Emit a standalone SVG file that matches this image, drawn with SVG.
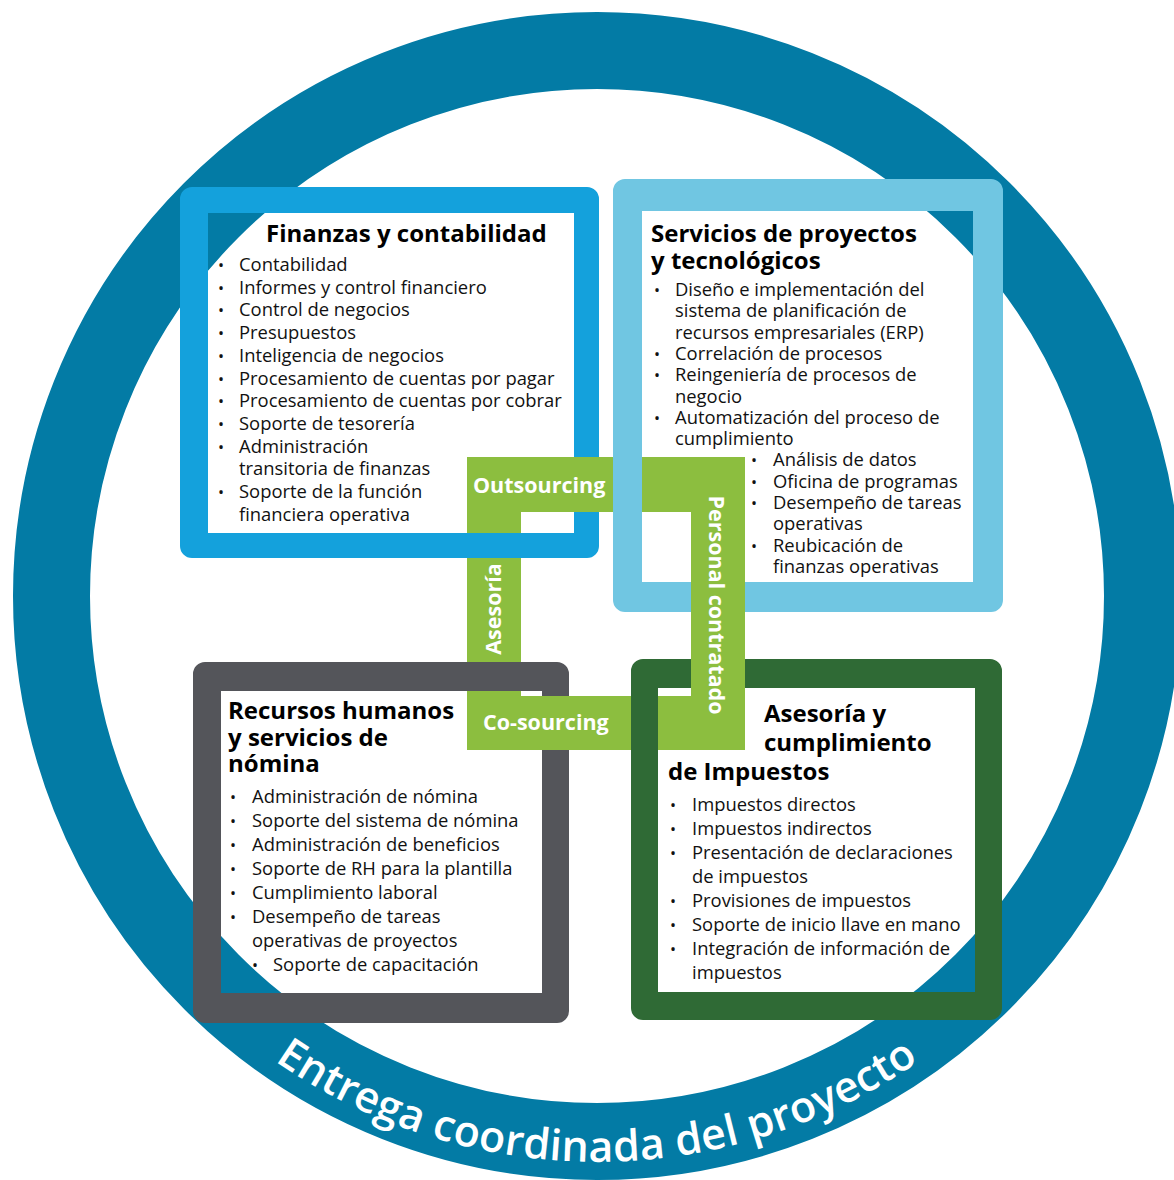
<svg xmlns="http://www.w3.org/2000/svg" width="1174" height="1180" viewBox="0 0 1174 1180">
<style>
.t{font-family:"Open Sans","Noto Sans",sans-serif;font-weight:700;font-size:24px;fill:#000}
.b{font-family:"Open Sans","Noto Sans",sans-serif;font-weight:400;font-size:18.4px;fill:#111}
.d{font-family:"Open Sans","Noto Sans",sans-serif;font-weight:400;font-size:16px;fill:#111;text-anchor:middle}
.g{font-family:"Open Sans","Noto Sans",sans-serif;font-weight:700;font-size:21.5px;fill:#fff}
.ring-text{font-family:"Open Sans","Noto Sans",sans-serif;font-weight:600;font-size:43px;fill:#fff;letter-spacing:0.3px}
.bar{fill:#8cbe3f}
</style>
<defs>
<path id="arc" d="M31,596 A566,566 0 0 0 1163,596"/>
</defs>
<rect width="1174" height="1180" fill="#fff"/>
<g id="ring">
<circle cx="597" cy="596" r="545.5" fill="none" stroke="#037ba5" stroke-width="77"/>
<text class="ring-text" text-anchor="middle"><textPath href="#arc" startOffset="50%">Entrega coordinada del proyecto</textPath></text>
</g>

<g id="finanzas">
<path fill="#14a1dc" fill-rule="evenodd" d="M192,187 H587 A12,12 0 0 1 599,199 V546 A12,12 0 0 1 587,558 H192 A12,12 0 0 1 180,546 V199 A12,12 0 0 1 192,187 Z M208,213 V533 H574 V213 Z"/>
<text class="t" x="266" y="242">Finanzas y contabilidad</text>
<g class="d">
<text x="221" y="271">•</text><text x="221" y="293.7">•</text><text x="221" y="316.4">•</text><text x="221" y="339.1">•</text><text x="221" y="361.8">•</text><text x="221" y="384.5">•</text><text x="221" y="407.2">•</text><text x="221" y="429.9">•</text><text x="221" y="452.6">•</text><text x="221" y="498">•</text>
</g>
<text class="b" x="239" y="271">Contabilidad</text>
<text class="b" x="239" y="293.7">Informes y control financiero</text>
<text class="b" x="239" y="316.4">Control de negocios</text>
<text class="b" x="239" y="339.1">Presupuestos</text>
<text class="b" x="239" y="361.8">Inteligencia de negocios</text>
<text class="b" x="239" y="384.5">Procesamiento de cuentas por pagar</text>
<text class="b" x="239" y="407.2">Procesamiento de cuentas por cobrar</text>
<text class="b" x="239" y="429.9">Soporte de tesorería</text>
<text class="b" x="239" y="452.6">Administración</text>
<text class="b" x="239" y="475.3">transitoria de finanzas</text>
<text class="b" x="239" y="498">Soporte de la función</text>
<text class="b" x="239" y="520.7">financiera operativa</text>
</g>

<g id="servicios">
<path fill="#70c6e2" fill-rule="evenodd" d="M625,179 H991 A12,12 0 0 1 1003,191 V600 A12,12 0 0 1 991,612 H625 A12,12 0 0 1 613,600 V191 A12,12 0 0 1 625,179 Z M642,211 V582 H973 V211 Z"/>
<text class="t" x="651" y="242">Servicios de proyectos</text>
<text class="t" x="651" y="268.5">y tecnológicos</text>
<g class="d">
<text x="657" y="296">•</text><text x="657" y="359.9">•</text><text x="657" y="381.2">•</text><text x="657" y="423.8">•</text>
<text x="754" y="466.4">•</text><text x="754" y="487.7">•</text><text x="754" y="509">•</text><text x="754" y="551.6">•</text>
</g>
<text class="b" x="675" y="296">Diseño e implementación del</text>
<text class="b" x="675" y="317.3">sistema de planificación de</text>
<text class="b" x="675" y="338.6">recursos empresariales (ERP)</text>
<text class="b" x="675" y="359.9">Correlación de procesos</text>
<text class="b" x="675" y="381.2">Reingeniería de procesos de</text>
<text class="b" x="675" y="402.5">negocio</text>
<text class="b" x="675" y="423.8">Automatización del proceso de</text>
<text class="b" x="675" y="445.1">cumplimiento</text>
<text class="b" x="773" y="466.4">Análisis de datos</text>
<text class="b" x="773" y="487.7">Oficina de programas</text>
<text class="b" x="773" y="509">Desempeño de tareas</text>
<text class="b" x="773" y="530.3">operativas</text>
<text class="b" x="773" y="551.6">Reubicación de</text>
<text class="b" x="773" y="572.9">finanzas operativas</text>
</g>

<g id="recursos">
<path fill="#54555a" fill-rule="evenodd" d="M205,662 H557 A12,12 0 0 1 569,674 V1011 A12,12 0 0 1 557,1023 H205 A12,12 0 0 1 193,1011 V674 A12,12 0 0 1 205,662 Z M221,691 V993 H542 V691 Z"/>
<text class="t" x="228" y="719">Recursos humanos</text>
<text class="t" x="228" y="745.5">y servicios de</text>
<text class="t" x="228" y="772">nómina</text>
<g class="d">
<text x="233" y="803">•</text><text x="233" y="827">•</text><text x="233" y="851">•</text><text x="233" y="875">•</text><text x="233" y="899">•</text><text x="233" y="923">•</text><text x="255" y="971">•</text>
</g>
<text class="b" x="252" y="803">Administración de nómina</text>
<text class="b" x="252" y="827">Soporte del sistema de nómina</text>
<text class="b" x="252" y="851">Administración de beneficios</text>
<text class="b" x="252" y="875">Soporte de RH para la plantilla</text>
<text class="b" x="252" y="899">Cumplimiento laboral</text>
<text class="b" x="252" y="923">Desempeño de tareas</text>
<text class="b" x="252" y="947">operativas de proyectos</text>
<text class="b" x="273" y="971">Soporte de capacitación</text>
</g>

<g id="impuestos">
<path fill="#2f6a35" fill-rule="evenodd" d="M643,659 H990 A12,12 0 0 1 1002,671 V1008 A12,12 0 0 1 990,1020 H643 A12,12 0 0 1 631,1008 V671 A12,12 0 0 1 643,659 Z M658,688 V992 H975 V688 Z"/>
<text class="t" x="764" y="722">Asesoría y</text>
<text class="t" x="764" y="751">cumplimiento</text>
<text class="t" x="668" y="780">de Impuestos</text>
<g class="d">
<text x="673" y="811">•</text><text x="673" y="835">•</text><text x="673" y="859">•</text><text x="673" y="907">•</text><text x="673" y="931">•</text><text x="673" y="955">•</text>
</g>
<text class="b" x="692" y="811">Impuestos directos</text>
<text class="b" x="692" y="835">Impuestos indirectos</text>
<text class="b" x="692" y="859">Presentación de declaraciones</text>
<text class="b" x="692" y="883">de impuestos</text>
<text class="b" x="692" y="907">Provisiones de impuestos</text>
<text class="b" x="692" y="931">Soporte de inicio llave en mano</text>
<text class="b" x="692" y="955">Integración de información de</text>
<text class="b" x="692" y="979">impuestos</text>
</g>

<g id="connectors">
<rect class="bar" x="467" y="457" width="278" height="55"/>
<rect class="bar" x="467" y="457" width="54" height="293"/>
<rect class="bar" x="467" y="696" width="278" height="54"/>
<rect class="bar" x="691" y="457" width="54" height="293"/>
<text class="g" x="473" y="493">Outsourcing</text>
<text class="g" x="483" y="730">Co-sourcing</text>
<text class="g" text-anchor="middle" transform="translate(501,609) rotate(-90)">Asesoría</text>
<text class="g" text-anchor="middle" transform="translate(709,605) rotate(90)">Personal contratado</text>
</g>

<g id="weave">
<rect x="467" y="533" width="54" height="25" fill="#14a1dc"/>
<rect x="613" y="457" width="29" height="55" fill="#70c6e2"/>
<rect x="467" y="662" width="54" height="29" fill="#54555a"/>
<rect x="631" y="696" width="27" height="54" fill="#2f6a35"/>
</g>
</svg>
